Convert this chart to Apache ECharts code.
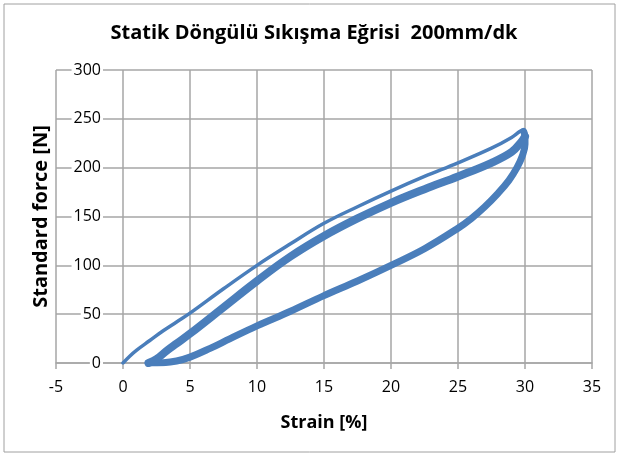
<!DOCTYPE html>
<html>
<head>
<meta charset="utf-8">
<script src="https://cdn.jsdelivr.net/npm/echarts@6/dist/echarts.min.js"></script>
<style>
  html, body { margin: 0; padding: 0; background: #fff; }
  #chart { width: 628px; height: 456px; }
</style>
</head>
<body>
<div id="chart"></div>
<script>
// first loading (thin line)
const firstLoadStrain = [0, 0.5, 1, 2, 3, 4, 5, 7.5, 10, 12.5, 15, 17.5, 20, 22.5, 25, 27.5, 29, 29.6, 29.9]
const firstLoadForce = [0, 7, 13, 23, 33, 42, 51, 76, 100, 122, 143, 160, 176, 191, 205, 220, 231, 237, 239]

// later loadings (thick band)
const loadStrain = [1.9, 2.5, 3.3, 4, 5, 7.5, 10, 12.5, 15, 17.5, 20, 22.5, 25, 27.5, 29, 29.7, 30]
const loadForce = [0, 4, 13, 20, 30, 57, 84, 109, 130, 148, 164, 178, 191, 205, 216, 226, 232]

// unloadings
const unloadStrain = [29.9, 30, 30, 29.8, 29.4, 28.8, 28, 27, 26, 25, 22.5, 20, 17.5, 15, 12.5, 10, 8, 6.5, 5, 4, 3, 2]
const unloadForce = [237, 232, 224, 212, 200, 187, 174, 160, 148, 138, 117, 100, 84, 69, 53, 38, 25, 15, 6, 2, 0.3, 0]

const blue = '#4a7ebb'
const gridColor = '#a6a6a6'
const font = 'Open Sans'

function pairs (xs, ys) {
  return xs.map((x, i) => [x, ys[i]])
}

const chart = echarts.init(document.getElementById('chart'))
chart.setOption({
  animation: false,
  backgroundColor: '#fff',
  title: {
    text: 'Statik Döngülü Sıkışma Eğrisi  200mm/dk',
    left: 'center',
    top: 18,
    textStyle: {
      fontFamily: font,
      fontWeight: 'bold',
      fontSize: 20,
      color: '#000'
    }
  },
  graphic: [{
    type: 'rect',
    shape: { x: 4, y: 4, width: 611, height: 448 },
    style: { fill: 'none', stroke: '#a0a0a0', lineWidth: 1 }
  }],
  grid: {
    left: 56,
    right: 36,
    top: 70,
    bottom: 93
  },
  xAxis: {
    type: 'value',
    min: -5,
    max: 35,
    interval: 5,
    name: 'Strain [%]',
    nameLocation: 'middle',
    nameGap: 51,
    nameTextStyle: {
      fontFamily: font,
      fontWeight: 'bold',
      fontSize: 18,
      color: '#000'
    },
    axisLine: { onZero: false, lineStyle: { color: gridColor, width: 1.5 } },
    axisTick: { show: true, length: 6, lineStyle: { color: gridColor, width: 1.5 } },
    axisLabel: {
      margin: 16,
      fontFamily: font,
      fontSize: 16,
      color: '#000'
    },
    splitLine: { show: true, lineStyle: { color: gridColor, width: 1.5 } }
  },
  yAxis: {
    type: 'value',
    min: 0,
    max: 300,
    interval: 50,
    offset: -51,
    name: 'Standard force [N]',
    nameLocation: 'middle',
    nameGap: 56,
    nameTextStyle: {
      fontFamily: font,
      fontWeight: 'bold',
      fontSize: 20,
      color: '#000'
    },
    axisLine: { show: false },
    axisTick: { show: false },
    axisLabel: {
      margin: 4,
      fontFamily: font,
      fontSize: 16,
      color: '#000',
      backgroundColor: '#fff',
      padding: [0, 2]
    },
    splitLine: { show: true, lineStyle: { color: gridColor, width: 1.5 } }
  },
  series: [
    {
      type: 'line',
      data: pairs(unloadStrain, unloadForce),
      showSymbol: false,
      smooth: 0.4,
      lineStyle: { color: blue, width: 7, cap: 'round', join: 'round' },
      z: 3
    },
    {
      type: 'line',
      data: pairs(loadStrain, loadForce),
      showSymbol: false,
      smooth: 0.4,
      lineStyle: { color: blue, width: 8, cap: 'round', join: 'round' },
      z: 3
    },
    {
      type: 'line',
      data: pairs(firstLoadStrain, firstLoadForce),
      showSymbol: false,
      smooth: 0.4,
      lineStyle: { color: blue, width: 3.5, cap: 'round', join: 'round' },
      z: 4
    }
  ]
})
</script>
</body>
</html>
